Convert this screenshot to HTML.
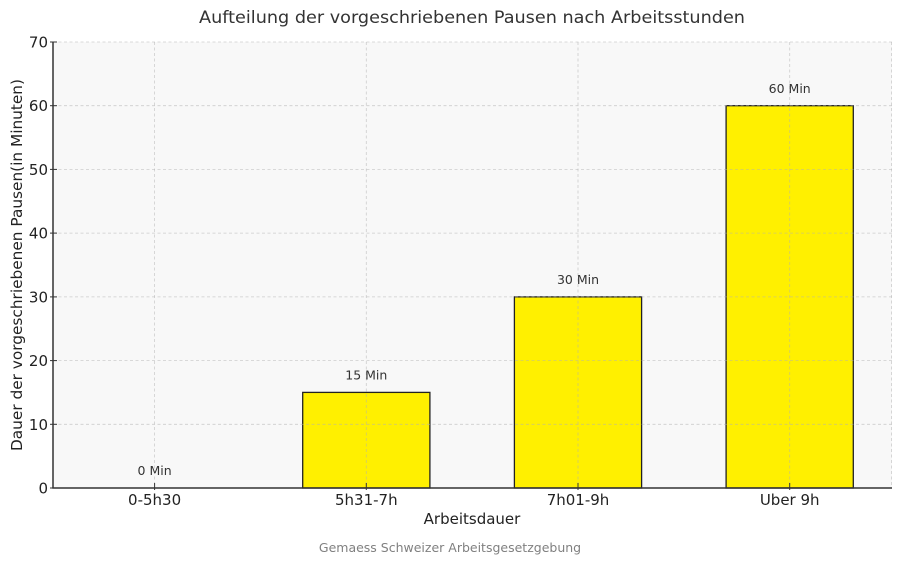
<!DOCTYPE html>
<html><head><meta charset="utf-8"><style>
html,body{margin:0;padding:0;background:#fff;}
svg{display:block;font-family:"DejaVu Sans","Liberation Sans",sans-serif;}
</style></head><body>
<svg width="900" height="564" viewBox="0 0 900 564" xmlns="http://www.w3.org/2000/svg">
<rect x="0" y="0" width="900" height="564" fill="#ffffff"/>
<rect x="53" y="42" width="839" height="446" fill="#f8f8f8"/>
<!-- bars -->
<g fill="#fff000" stroke="#222" stroke-width="1.3">
<rect x="302.7" y="392.4" width="127.2" height="95.6"/>
<rect x="514.4" y="296.9" width="127.2" height="191.1"/>
<rect x="726.1" y="105.7" width="127.2" height="382.3"/>
</g>
<!-- grid -->
<g stroke="#b0b0b0" stroke-opacity="0.6" stroke-width="0.8" stroke-dasharray="3,2.5">
<line x1="53" y1="42" x2="892" y2="42"/>
<line x1="53" y1="105.7" x2="892" y2="105.7"/>
<line x1="53" y1="169.4" x2="892" y2="169.4"/>
<line x1="53" y1="233.1" x2="892" y2="233.1"/>
<line x1="53" y1="296.9" x2="892" y2="296.9"/>
<line x1="53" y1="360.6" x2="892" y2="360.6"/>
<line x1="53" y1="424.3" x2="892" y2="424.3"/>
<line x1="154.6" y1="42" x2="154.6" y2="488"/>
<line x1="366.3" y1="42" x2="366.3" y2="488"/>
<line x1="578" y1="42" x2="578" y2="488"/>
<line x1="789.7" y1="42" x2="789.7" y2="488"/>
<line x1="891.5" y1="42" x2="891.5" y2="488"/>
</g>
<!-- axes -->
<g stroke="#333" stroke-width="1.5">
<line x1="53" y1="41.5" x2="53" y2="488.5"/>
<line x1="52.3" y1="488" x2="892" y2="488"/>
</g>
<g stroke="#333" stroke-width="1">
<line x1="50" y1="42" x2="57" y2="42"/>
<line x1="50" y1="105.7" x2="57" y2="105.7"/>
<line x1="50" y1="169.4" x2="57" y2="169.4"/>
<line x1="50" y1="233.1" x2="57" y2="233.1"/>
<line x1="50" y1="296.9" x2="57" y2="296.9"/>
<line x1="50" y1="360.6" x2="57" y2="360.6"/>
<line x1="50" y1="424.3" x2="57" y2="424.3"/>
<line x1="50" y1="488" x2="57" y2="488"/>
<line x1="154.6" y1="483" x2="154.6" y2="490"/>
<line x1="366.3" y1="483" x2="366.3" y2="490"/>
<line x1="578" y1="483" x2="578" y2="490"/>
<line x1="789.7" y1="483" x2="789.7" y2="490"/>
</g>
<!-- y tick labels -->
<g font-size="15" fill="#222" text-anchor="end">
<text x="48" y="47.5">70</text>
<text x="48" y="111.2">60</text>
<text x="48" y="174.9">50</text>
<text x="48" y="238.6">40</text>
<text x="48" y="302.4">30</text>
<text x="48" y="366.1">20</text>
<text x="48" y="429.8">10</text>
<text x="48" y="493.5">0</text>
</g>
<!-- x tick labels -->
<g font-size="15" fill="#222" text-anchor="middle">
<text x="154.6" y="505">0-5h30</text>
<text x="366.3" y="505">5h31-7h</text>
<text x="578" y="505">7h01-9h</text>
<text x="789.7" y="505">Uber 9h</text>
</g>
<!-- value labels -->
<g font-size="12.5" fill="#333" text-anchor="middle">
<text x="154.6" y="475">0 Min</text>
<text x="366.3" y="379.5">15 Min</text>
<text x="578" y="284">30 Min</text>
<text x="789.7" y="92.8">60 Min</text>
</g>
<!-- axis labels -->
<text x="472" y="524" font-size="15" fill="#222" text-anchor="middle">Arbeitsdauer</text>
<text transform="translate(22,265) rotate(-90)" x="0" y="0" font-size="15" fill="#222" text-anchor="middle" textLength="372" lengthAdjust="spacingAndGlyphs">Dauer der vorgeschriebenen Pausen(in Minuten)</text>
<!-- title -->
<text x="472" y="23" font-size="17" fill="#333" text-anchor="middle" textLength="546" lengthAdjust="spacingAndGlyphs">Aufteilung der vorgeschriebenen Pausen nach Arbeitsstunden</text>
<!-- footer -->
<text x="450" y="552" font-size="12.5" fill="#808080" text-anchor="middle">Gemaess Schweizer Arbeitsgesetzgebung</text>
</svg>
</body></html>
